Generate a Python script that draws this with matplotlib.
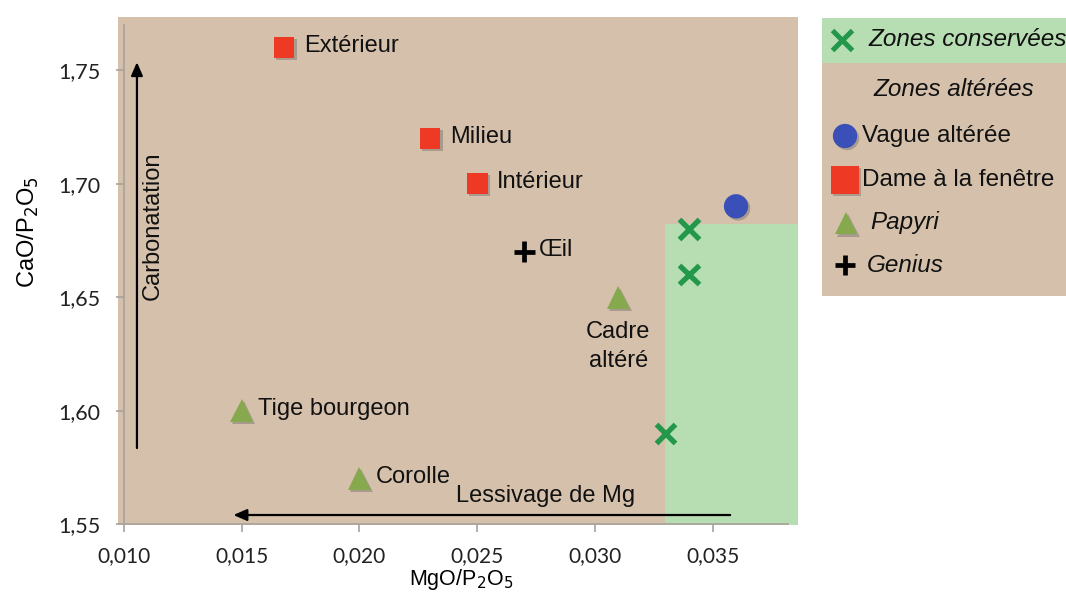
import matplotlib
matplotlib.use("Agg")
import matplotlib.pyplot as plt
import matplotlib.patheffects as pe
from matplotlib.patches import Rectangle
from matplotlib.ticker import FuncFormatter

# ---------------- data ----------------
cons_x = [0.034, 0.034, 0.033]
cons_y = [1.68, 1.66, 1.59]

vague_x = [0.036]
vague_y = [1.69]

dame_labels = ["Extérieur", "Milieu", "Intérieur"]
dame_x = [0.0168, 0.023, 0.025]
dame_y = [1.76, 1.72, 1.70]

papyri_labels = ["Cadre\naltéré", "Tige bourgeon", "Corolle"]
papyri_x = [0.031, 0.015, 0.020]
papyri_y = [1.65, 1.60, 1.57]

genius_labels = ["Œil"]
genius_x = [0.027]
genius_y = [1.67]

conserved_zone_x0 = 0.033
conserved_zone_y1 = 1.682

x_ticks = [0.010, 0.015, 0.020, 0.025, 0.030, 0.035]
y_ticks = [1.55, 1.60, 1.65, 1.70, 1.75]

legend_names = ["Zones conservées", "Zones altérées", "Vague altérée",
                "Dame à la fenêtre", "Papyri", "Genius"]

# ---------------- style ----------------
BROWN = "#D5C1AB"
GREEN_BG = "#B7DDB3"
RED = "#EE3A25"
BLUE = "#3B4FB8"
OLIVE = "#86A94E"
XGREEN = "#23974A"
SPINE = "#A8A29A"
FONT = ["Liberation Sans", "DejaVu Sans"]
TICKFONT = ["Lato", "DejaVu Sans"]
FS = 17

shadow = [pe.SimplePatchShadow(offset=(1.5, -1.5), alpha=0.35, shadow_rgbFace="#555555"),
          pe.Normal()]

W, H = 1066, 592
fig = plt.figure(figsize=(W / 100, H / 100), dpi=100)
fig.patch.set_facecolor("white")

def px_rect(l, t, r, b):
    return [l / W, 1 - b / H, (r - l) / W, (b - t) / H]

ax = fig.add_axes(px_rect(118, 17, 798, 525))
ax.set_facecolor(BROWN)
ax.set_xlim(0.009745, 0.038632)
ax.set_ylim(1.5496, 1.7734)

# conserved zone
ax.add_patch(Rectangle((conserved_zone_x0, 1.5496), 0.05, conserved_zone_y1 - 1.5496,
                       facecolor=GREEN_BG, edgecolor="none", zorder=0.5))

# spines
for s in ["top", "right"]:
    ax.spines[s].set_visible(False)
ax.spines["left"].set_position(("data", 0.010))
ax.spines["left"].set_bounds(1.55, 1.77)
ax.spines["bottom"].set_position(("data", 1.55))
ax.spines["bottom"].set_bounds(0.010, 0.0382)
for s in ["left", "bottom"]:
    ax.spines[s].set_color(SPINE)
    ax.spines[s].set_linewidth(1.2)

ax.set_xticks(x_ticks)
ax.set_yticks(y_ticks)
ax.xaxis.set_major_formatter(FuncFormatter(lambda v, p: f"{v:.3f}".replace(".", ",")))
ax.yaxis.set_major_formatter(FuncFormatter(lambda v, p: f"{v:.2f}".replace(".", ",")))
ax.tick_params(axis="both", direction="out", length=6, width=1.2, color=SPINE,
               labelsize=15.5, labelcolor="#222222")
ax.tick_params(axis="x", pad=9.5, labelsize=15)
ax.tick_params(axis="y", pad=11)
for lab in ax.get_xticklabels() + ax.get_yticklabels():
    lab.set_family(TICKFONT)

ax.set_xlabel("MgO/P$_2$O$_5$", fontsize=15.5, family=FONT)
ax.set_ylabel("CaO/P$_2$O$_5$", fontsize=FS, family=FONT)
ax.xaxis.set_label_coords((461 - 118) / 680, -(579 - 525) / 508)
ax.yaxis.set_label_coords(-(118 - 28) / 680, (525 - 232) / 508)
ax.xaxis.label.set_va("center")
ax.yaxis.label.set_va("center")

# markers
ax.plot(cons_x, cons_y, ls="none", marker="x", ms=14, mew=3.8, color=XGREEN,
        zorder=3, path_effects=shadow)
ax.plot(vague_x, vague_y, ls="none", marker="o", ms=17.5, color=BLUE, mec="none",
        zorder=3, path_effects=shadow)
ax.plot(dame_x, dame_y, ls="none", marker="s", ms=15, color=RED, mec="none",
        zorder=3, path_effects=shadow)
ax.plot(papyri_x, papyri_y, ls="none", marker="^", ms=16.5, color=OLIVE, mec="none",
        zorder=3, path_effects=shadow)
ax.plot(genius_x, genius_y, ls="none", marker="+", ms=15, mew=3.4, color="black",
        zorder=3, path_effects=shadow)

tkw = dict(fontsize=FS, family=FONT, color="#111111", zorder=4)
for lab, x, y in zip(dame_labels, dame_x, dame_y):
    ax.annotate(lab, (x, y), xytext=(14.5, 1), textcoords="offset points",
                ha="left", va="center", **tkw)
for lab, x, y in zip(genius_labels, genius_x, genius_y):
    ax.annotate(lab, (x, y), xytext=(10.5, 1), textcoords="offset points",
                ha="left", va="center", **tkw)
ax.annotate(papyri_labels[0], (papyri_x[0], papyri_y[0]), xytext=(0, -17),
            textcoords="offset points", ha="center", va="top", linespacing=1.45, **tkw)
for lab, x, y in zip(papyri_labels[1:], papyri_x[1:], papyri_y[1:]):
    ax.annotate(lab, (x, y), xytext=(11.5, 1), textcoords="offset points",
                ha="left", va="center", **tkw)

# trend arrows
ax.annotate("", xy=(0.01055, 1.7535), xytext=(0.01055, 1.5835),
            arrowprops=dict(arrowstyle="-|>,head_length=0.8,head_width=0.35",
                            color="black", lw=1.6, shrinkA=0, shrinkB=0), zorder=4)
ax.text(0.0112, 1.6815, "Carbonatation", rotation=90, ha="center", va="center", **tkw)
ax.annotate("", xy=(0.01465, 1.554), xytext=(0.03575, 1.554),
            arrowprops=dict(arrowstyle="-|>,head_length=0.8,head_width=0.35",
                            color="black", lw=1.6, shrinkA=0, shrinkB=0), zorder=4)
ax.text(0.0279, 1.5622, "Lessivage de Mg", ha="center", va="center", **tkw)

# ---------------- legend (manual, pixel coordinates) ----------------
lg = fig.add_axes(px_rect(822, 18, 1066, 296))
lg.set_xlim(822, 1066)
lg.set_ylim(296, 18)
lg.axis("off")
lg.add_patch(Rectangle((822, 18), 260, 278, facecolor=BROWN, edgecolor="none"))
lg.add_patch(Rectangle((822, 18), 260, 45, facecolor=GREEN_BG, edgecolor="none"))
lkw = dict(fontsize=17.5, family=FONT, color="#111111", va="center")
lg.plot([842], [40], marker="x", ms=14, mew=3.6, color=XGREEN, path_effects=shadow)
lg.text(868, 40, legend_names[0], style="italic", ha="left", **lkw)
lg.text(954, 90, legend_names[1], style="italic", ha="center", **lkw)
lg.plot([845], [136], marker="o", ms=17.5, color=BLUE, mec="none", path_effects=shadow)
lg.text(862, 136, legend_names[2], ha="left", **lkw)
lg.plot([845], [180], marker="s", ms=20, color=RED, mec="none", path_effects=shadow)
lg.text(862, 180, legend_names[3], ha="left", **lkw)
lg.plot([846], [223], marker="^", ms=16.5, color=OLIVE, mec="none", path_effects=shadow)
lg.text(870, 223, legend_names[4], style="italic", ha="left", **lkw)
lg.plot([845], [265], marker="+", ms=15, mew=3.4, color="black", path_effects=shadow)
lg.text(867, 265, legend_names[5], style="italic", ha="left", **lkw)

fig.savefig("out.png", dpi=100, facecolor="white")
